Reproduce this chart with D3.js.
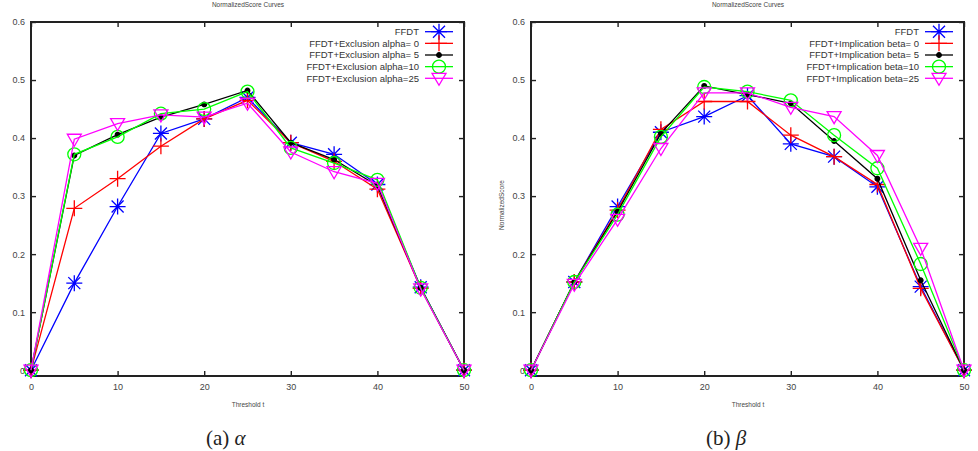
<!DOCTYPE html>
<html>
<head>
<meta charset="utf-8">
<script src="https://cdn.jsdelivr.net/npm/d3@7"></script>
<style>
  body { margin: 0; background: #fff; }
  svg text { font-family: "Liberation Sans", Arial, sans-serif; }
</style>
</head>
<body>
<div id="chart"></div>
<script>
// threshold values on the x axis
var thresholds = [0, 5, 10, 15, 20, 25, 30, 35, 40, 45, 50];
var xTicks = [0, 10, 20, 30, 40, 50];
var yTicks = [0, 0.1, 0.2, 0.3, 0.4, 0.5, 0.6];

// (a) alpha panel
var labelsA = ['FFDT', 'FFDT+Exclusion alpha= 0', 'FFDT+Exclusion alpha= 5', 'FFDT+Exclusion alpha=10', 'FFDT+Exclusion alpha=25'];
var ffdtA   = [0, 0.150, 0.282, 0.408, 0.433, 0.470, 0.392, 0.372, 0.320, 0.143, 0];
var excl0   = [0, 0.279, 0.330, 0.386, 0.433, 0.465, 0.392, 0.360, 0.312, 0.141, 0];
var excl5   = [0, 0.370, 0.406, 0.436, 0.458, 0.482, 0.392, 0.363, 0.318, 0.142, 0];
var excl10  = [0, 0.372, 0.402, 0.442, 0.450, 0.480, 0.383, 0.357, 0.328, 0.142, 0];
var excl25  = [0, 0.398, 0.425, 0.440, 0.436, 0.460, 0.376, 0.342, 0.322, 0.140, 0];

// (b) beta panel
var labelsB = ['FFDT', 'FFDT+Implication beta= 0', 'FFDT+Implication beta= 5', 'FFDT+Implication beta=10', 'FFDT+Implication beta=25'];
var ffdtB   = [0, 0.152, 0.282, 0.410, 0.437, 0.473, 0.390, 0.368, 0.316, 0.144, 0];
var impl0   = [0, 0.152, 0.276, 0.415, 0.463, 0.463, 0.405, 0.368, 0.320, 0.141, 0];
var impl5   = [0, 0.152, 0.273, 0.408, 0.490, 0.475, 0.460, 0.395, 0.330, 0.155, 0];
var impl10  = [0, 0.152, 0.268, 0.402, 0.488, 0.480, 0.465, 0.405, 0.348, 0.183, 0];
var impl25  = [0, 0.148, 0.260, 0.382, 0.478, 0.478, 0.453, 0.437, 0.370, 0.210, 0];

var colors  = ['#0000ff', '#ff0000', '#000000', '#00ff00', '#ff00ff'];
var markers = ['star', 'plus', 'dot', 'circle', 'tri'];

var svg = d3.select('#chart').append('svg')
  .attr('width', 978)
  .attr('height', 451);

// draws one gnuplot style point symbol
function marker(sel, type, color, cx, cy) {
  var m = sel.append('g')
    .attr('transform', 'translate(' + cx + ',' + cy + ')')
    .attr('stroke', color).attr('fill', 'none').attr('stroke-width', 1.3);
  if (type === 'star') m.append('path').attr('d', 'M-8,0H8M0,-8V8M-6,-6L6,6M-6,6L6,-6');
  if (type === 'plus') m.append('path').attr('d', 'M-8,0H8M0,-8V8');
  if (type === 'dot') m.append('circle').attr('r', 2.3).attr('fill', color);
  if (type === 'circle') m.append('circle').attr('r', 6.5);
  if (type === 'tri') m.append('path').attr('d', 'M-7,-5L7,-5L0,7Z');
}

function drawPanel(opt) {
  var x = d3.scaleLinear().domain([0, 50]).range([opt.left, opt.left + 433]);
  var y = d3.scaleLinear().domain([-0.01, 0.6]).range([376, 22]);
  var g = svg.append('g');

  // title and axis titles
  g.append('text')
    .attr('x', opt.left + 217).attr('y', 7)
    .attr('text-anchor', 'middle').style('font-size', '6.5px').attr('fill', '#444')
    .text('NormalizedScore Curves');
  g.append('text')
    .attr('x', opt.left + 217).attr('y', 407)
    .attr('text-anchor', 'middle').style('font-size', '6.5px').attr('fill', '#444')
    .text('Threshold t');
  if (opt.yLabel) {
    g.append('text')
      .attr('transform', 'translate(' + (opt.left - 27) + ',205) rotate(-90)')
      .attr('text-anchor', 'middle').style('font-size', '6.5px').attr('fill', '#444')
      .text(opt.yLabel);
  }

  // axes, ticks pointing inwards like gnuplot
  var fmtY = function (d) { return d === 0 ? '0' : d3.format('.1f')(d); };
  var axes = [
    g.append('g').attr('transform', 'translate(0,376)')
      .call(d3.axisBottom(x).tickValues(xTicks).tickSize(-5).tickPadding(8)),
    g.append('g').attr('transform', 'translate(0,22)')
      .call(d3.axisTop(x).tickValues(xTicks).tickSize(-5).tickFormat('')),
    g.append('g').attr('transform', 'translate(' + opt.left + ',0)')
      .call(d3.axisLeft(y).tickValues(yTicks).tickSize(-5).tickPadding(6).tickFormat(fmtY)),
    g.append('g').attr('transform', 'translate(' + (opt.left + 433) + ',0)')
      .call(d3.axisRight(y).tickValues(yTicks).tickSize(-5).tickFormat(''))
  ];
  axes.forEach(function (a) {
    a.select('.domain').remove();
    a.selectAll('line').attr('stroke', '#222').attr('stroke-width', 1.4);
    a.selectAll('text').style('font-size', '9px').attr('fill', '#444').style('font-family', '"Liberation Sans", Arial, sans-serif');
  });

  // plot border
  g.append('rect')
    .attr('x', opt.left).attr('y', 22)
    .attr('width', 433).attr('height', 354)
    .attr('fill', 'none').attr('stroke', '#222').attr('stroke-width', 2);

  var line = d3.line()
    .x(function (d, i) { return x(thresholds[i]); })
    .y(function (d) { return y(d); });

  opt.series.forEach(function (values, k) {
    var sg = g.append('g').attr('class', 'series');
    sg.append('path')
      .attr('d', line(values))
      .attr('fill', 'none').attr('stroke', colors[k]).attr('stroke-width', 1.3);
    values.forEach(function (v, i) {
      marker(sg, markers[k], colors[k], x(thresholds[i]), y(v));
    });
  });

  // legend, top right inside the frame
  var lg = g.append('g');
  opt.labels.forEach(function (label, k) {
    var ly = 31.7 + k * 11.65;
    lg.append('text')
      .attr('x', opt.left + 388).attr('y', ly).attr('dy', '0.35em')
      .attr('text-anchor', 'end').style('font-size', '9.5px').attr('fill', '#333')
      .text(label);
    lg.append('line')
      .attr('x1', opt.left + 394).attr('x2', opt.left + 422)
      .attr('y1', ly).attr('y2', ly)
      .attr('stroke', colors[k]).attr('stroke-width', 1.3);
    marker(lg, markers[k], colors[k], opt.left + 408, ly);
  });

  // sub caption below the plot
  var cap = g.append('text')
    .attr('x', opt.capX).attr('y', 445)
    .style('font-family', '"Liberation Serif", "Times New Roman", serif')
    .style('font-size', '21px').attr('fill', '#222');
  cap.append('tspan').text(opt.capText + ' ');
  cap.append('tspan').style('font-style', 'italic').text(opt.capSymbol);
}

drawPanel({ left: 31, series: [ffdtA, excl0, excl5, excl10, excl25], labels: labelsA,
            yLabel: null, capX: 206, capText: '(a)', capSymbol: 'α' });
drawPanel({ left: 531, series: [ffdtB, impl0, impl5, impl10, impl25], labels: labelsB,
            yLabel: 'NormalizedScore', capX: 706, capText: '(b)', capSymbol: 'β' });
</script>
</body>
</html>
